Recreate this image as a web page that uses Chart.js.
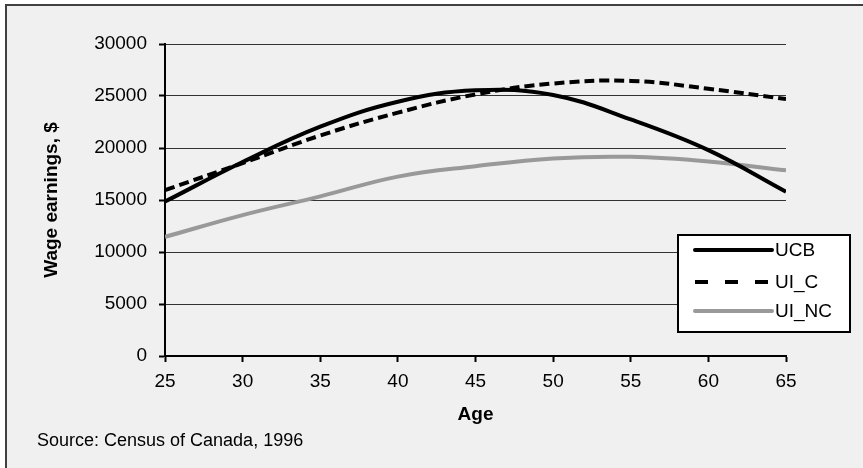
<!DOCTYPE html>
<html>
<head>
<meta charset="utf-8">
<script src="https://cdn.jsdelivr.net/npm/chart.js@4.4.0/dist/chart.umd.min.js"></script>
<style>
html, body { margin: 0; padding: 0; background: #ffffff; overflow: hidden; }
#cadre { position: absolute; left: 5px; top: 4px; width: 900px; height: 500px;
         border-left: 2px solid #404040; border-top: 2px solid #404040; background: #f0f0f0; }
#zone { position: absolute; left: 0; top: 0; width: 863px; height: 468px; }
#source { position: absolute; left: 37px; top: 430px; font: 18px "Liberation Sans", Arial, sans-serif; color: #000; }
</style>
</head>
<body>
<div id="cadre"></div>
<div id="zone"><canvas id="graphique" width="863" height="468"></canvas></div>
<div id="source">Source: Census of Canada, 1996</div>
<script>
/********************/
/* Données          */
/********************/
var ages = [25, 30, 35, 40, 45, 50, 55, 60, 65];
var ucb = [14850, 18650, 22050, 24450, 25550, 25100, 22750, 19800, 15800];
var uiC = [15950, 18550, 21200, 23400, 25150, 26200, 26450, 25700, 24700];
var uiNC = [11450, 13550, 15350, 17250, 18250, 19000, 19150, 18700, 17850];
var yTicks = [0, 5000, 10000, 15000, 20000, 25000, 30000];
var xTicks = [25, 30, 35, 40, 45, 50, 55, 60, 65];

var police = '"Liberation Sans", Arial, sans-serif';

//Combinaison des x et y
function pointsXY(valeurs) {
    var donnees = [];
    for (var i = 0; i < ages.length; i++) {
        donnees.push({ x: ages[i], y: valeurs[i] });
    }
    return donnees;
}

/*********************************/
/* Légende dessinée dans le cadre */
/*********************************/
var legendePlugin = {
    id: 'legende',
    afterDraw: function(chart) {
        var ctx = chart.ctx;
        ctx.save();
        ctx.fillStyle = '#ffffff';
        ctx.fillRect(678, 235, 172, 97);
        ctx.strokeStyle = '#000000';
        ctx.lineWidth = 2;
        ctx.strokeRect(678, 235, 172, 97);
        var lignesY = [250, 282, 311];
        chart.data.datasets.forEach(function(ds, i) {
            ctx.beginPath();
            ctx.strokeStyle = ds.borderColor;
            ctx.lineWidth = 4;
            ctx.lineCap = ds.borderDash ? 'butt' : 'round';
            ctx.setLineDash(ds.borderDash ? [13, 17] : []);
            ctx.moveTo(695, lignesY[i]);
            ctx.lineTo(772, lignesY[i]);
            ctx.stroke();
            ctx.setLineDash([]);
            ctx.fillStyle = '#000000';
            ctx.font = '19px ' + police;
            ctx.textBaseline = 'middle';
            ctx.textAlign = 'left';
            ctx.fillText(ds.label, 775, lignesY[i] + 1);
        });
        ctx.restore();
    }
};

/*********************/
/* Création du graphe */
/*********************/
var ctx = document.getElementById('graphique').getContext('2d');
var courbeChart = new Chart(ctx, {
    type: 'line',
    data: {
        datasets: [{
            label: 'UCB',
            data: pointsXY(ucb),
            borderColor: '#000000',
            borderWidth: 4,
            pointRadius: 0,
            tension: 0.4
        }, {
            label: 'UI_C',
            data: pointsXY(uiC),
            borderColor: '#000000',
            borderWidth: 4,
            borderDash: [10, 5],
            pointRadius: 0,
            tension: 0.4
        }, {
            label: 'UI_NC',
            data: pointsXY(uiNC),
            borderColor: '#999999',
            borderWidth: 4,
            pointRadius: 0,
            tension: 0.4
        }]
    },
    options: {
        responsive: false,
        animation: false,
        layout: { padding: { left: 36, right: 77, top: 44, bottom: 42 } },
        plugins: {
            legend: { display: false },
            tooltip: { enabled: false }
        },
        scales: {
            x: {
                type: 'linear',
                min: 25,
                max: 65,
                afterBuildTicks: function(scale) {
                    scale.ticks = xTicks.map(function(v) { return { value: v }; });
                },
                afterFit: function(scale) { scale.height = 70; },
                ticks: { color: '#000', font: { family: police, size: 19 }, padding: 8, maxRotation: 0 },
                grid: { display: true, drawOnChartArea: false, tickLength: 6, tickColor: '#000', tickWidth: 2 },
                border: { color: '#000', width: 2 },
                title: { display: true, text: 'Age', color: '#000', font: { family: police, size: 19, weight: 'bold' }, padding: 0 }
            },
            y: {
                min: 0,
                max: 30000,
                afterBuildTicks: function(scale) {
                    scale.ticks = yTicks.map(function(v) { return { value: v }; });
                },
                afterFit: function(scale) { scale.width = 129; },
                ticks: {
                    color: '#000',
                    font: { family: police, size: 19 },
                    padding: 12,
                    callback: function(v) { return String(v); }
                },
                grid: { display: true, color: '#333333', lineWidth: 1, tickLength: 6, tickColor: '#000', tickWidth: 2 },
                border: { color: '#000', width: 2 },
                title: { display: true, text: 'Wage earnings, $', color: '#000', font: { family: police, size: 19, weight: 'bold' }, padding: { top: 4, bottom: 4 } }
            }
        }//Fin scales
    },//Fin options
    plugins: [legendePlugin]
});//Fin new Chart
</script>
</body>
</html>
